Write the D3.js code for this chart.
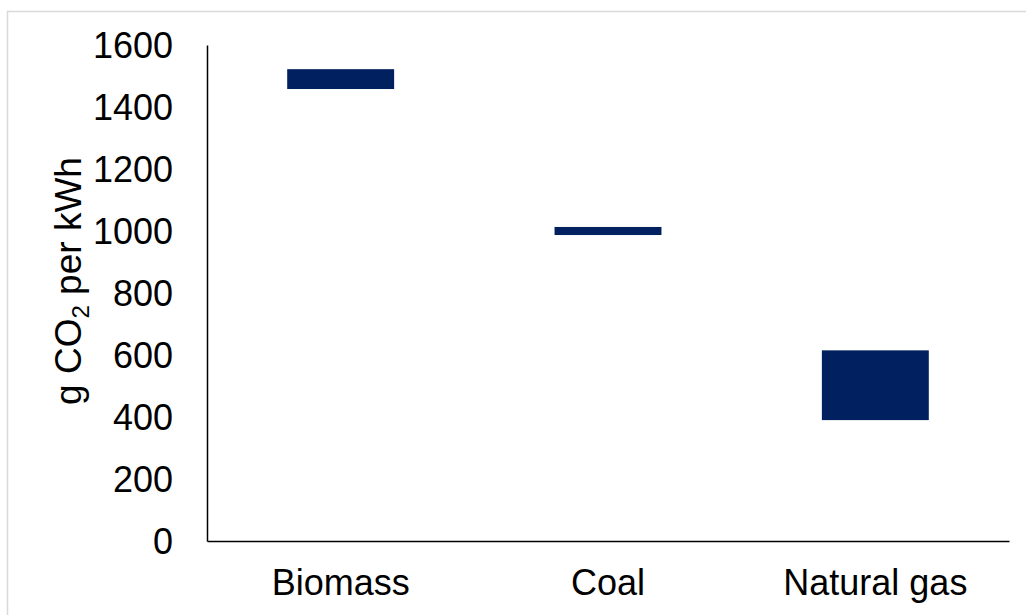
<html>
<head>
  <meta charset="utf-8">
  <script src="https://d3js.org/d3.v7.min.js"></script>
  <style>
    body { margin: 0; background: white; }
    text { font-family: "Liberation Sans", Arial, sans-serif; fill: #000; }
  </style>
</head>
<body>
<svg id="chart" width="1026" height="615"></svg>
<script>
// floating bars: low and high of each range
var categories = ["Biomass", "Coal", "Natural gas"];
var lowValues = [1458, 987, 390];
var highValues = [1522, 1013, 615];
var yTicks = [0, 200, 400, 600, 800, 1000, 1200, 1400, 1600];

var svg = d3.select("#chart");

// outer frame
svg.append("rect")
    .attr("x", 7.5).attr("y", 11.5)
    .attr("width", 1030).attr("height", 620)
    .attr("fill", "none").attr("stroke", "#d9d9d9").attr("stroke-width", 1.5);

var x = d3.scaleBand().domain(categories).range([207, 1009])
    .paddingInner(0.6).paddingOuter(0.3);
var y = d3.scaleLinear().domain([0, 1600]).range([541, 45]);

var rows = categories.map((c, i) => ({ cat: c, lo: lowValues[i], hi: highValues[i] }));

svg.selectAll("rect.bar").data(rows).enter().append("rect")
    .attr("class", "bar")
    .attr("x", d => x(d.cat)).attr("width", x.bandwidth())
    .attr("y", d => y(d.hi)).attr("height", d => y(d.lo) - y(d.hi))
    .attr("fill", "#002060");

// axes
var yAxis = svg.append("g").attr("transform", "translate(207,0)")
    .call(d3.axisLeft(y).tickValues(yTicks).tickSize(0).tickPadding(34).tickFormat(d3.format("d")));
yAxis.select(".domain").attr("stroke", "#000").attr("stroke-width", 1.5);
yAxis.selectAll("text").attr("font-size", 36).attr("fill", "#000")
    .style("font-family", "Liberation Sans, Arial, sans-serif").attr("dy", "0.35em");

var xAxis = svg.append("g").attr("transform", "translate(0,541)")
    .call(d3.axisBottom(x).tickSize(0).tickPadding(28));
xAxis.select(".domain").attr("stroke", "#000").attr("stroke-width", 1.5);
xAxis.selectAll("text").attr("font-size", 36).attr("fill", "#000")
    .style("font-family", "Liberation Sans, Arial, sans-serif");

// y label with subscript
var lab = svg.append("text")
    .attr("transform", "translate(81,281) rotate(-90)")
    .attr("text-anchor", "middle").attr("font-size", 37);
lab.append("tspan").text("g CO");
lab.append("tspan").attr("font-size", 24).attr("dy", 8).text("2");
lab.append("tspan").attr("dy", -8).text(" per kWh");
</script>
</body>
</html>
